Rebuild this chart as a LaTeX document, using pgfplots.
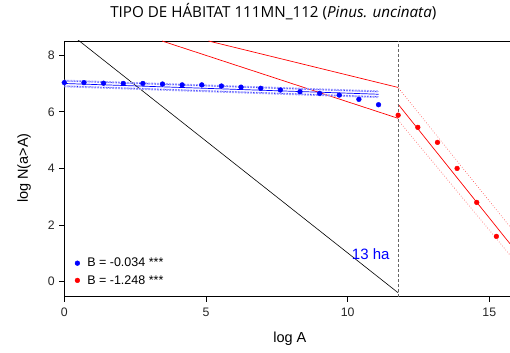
\documentclass[border=0pt]{standalone}
\usepackage{fontspec}
\setmainfont{Liberation Sans}
\newfontfamily\titlefont{Open Sans}
\usepackage{pgfplots}
\pgfplotsset{compat=1.18}
\pgfplotstableread{
x y
0.000 7.03
0.693 7.03
1.386 7.01
2.079 7.00
2.773 7.00
3.466 6.98
4.159 6.95
4.852 6.95
5.545 6.91
6.238 6.87
6.931 6.83
7.625 6.77
8.318 6.71
9.011 6.65
9.704 6.59
10.397 6.44
11.090 6.25
}\bluedata
\pgfplotstableread{
x y
11.783 5.88
12.477 5.45
13.170 4.92
13.863 4.00
14.556 2.80
15.249 1.60
}\reddata
\begin{document}
\begin{tikzpicture}
\path[use as bounding box] (0,0) rectangle (510bp,353bp);
\begin{axis}[
  at={(64.3bp,56.3bp)}, anchor=south west,
  scale only axis, width=445.7bp, height=255.7bp,
  xmin=0, xmax=15.73, ymin=-0.53, ymax=8.50,
  axis x line=box, axis y line*=left,
  xtick pos=lower, ytick pos=left,
  xtick={0,5,10,15}, ytick={0,2,4,6,8},
  tick align=outside, major tick length=5bp,
  tick style={black, line width=0.6bp},
  axis line style={black, line width=0.8bp},
  /pgf/number format/assume math mode=true,
  ticklabel style={font=\fontsize{12.3bp}{14bp}\selectfont, text=black!85},
  xticklabel style={yshift=-3bp},
  yticklabel style={xshift=-1bp},
  title={TIPO DE HÁBITAT 111MN\_112 (\textit{Pinus. uncinata})},
  title style={font=\titlefont\fontsize{15.2bp}{18bp}\selectfont, at={(axis description cs:0.469,1.0919)}, anchor=center},
  xlabel={log A},
  xlabel style={font=\fontsize{14.5bp}{17bp}\selectfont, at={(axis description cs:0.506,-0.1654)}, anchor=center},
  ylabel={log N(a>A)},
  ylabel style={font=\fontsize{14.5bp}{17bp}\selectfont, at={(axis description cs:-0.0900,0.503)}, anchor=center},
  legend style={at={(axis description cs:0.0,0.0)}, anchor=south west, draw=none, fill=none,
    font=\fontsize{12.5bp}{15bp}\selectfont, row sep=3bp, column sep=5.5bp, inner sep=2bp,
    xshift=8.5bp, yshift=7bp},
  legend cell align=left,
]
% black line
\addplot[black, line width=0.6bp, forget plot] coordinates {(0,8.92) (11.78,-0.39)};
% red lines before threshold
\addplot[red, line width=0.7bp, forget plot] coordinates {(3.45,8.50) (11.78,5.77)};
\addplot[red, line width=0.7bp, forget plot] coordinates {(5.09,8.50) (11.78,6.86)};
% blue fit with bands
\addplot[blue!35, line width=2bp, densely dotted, forget plot] coordinates {(0,7.10) (11.09,6.72)};
\addplot[blue!35, line width=2bp, densely dotted, forget plot] coordinates {(0,6.90) (11.09,6.52)};
\addplot[blue, line width=0.6bp, dotted, forget plot] coordinates {(0,7.09) (11.09,6.71)};
\addplot[blue, line width=0.6bp, dotted, forget plot] coordinates {(0,6.91) (11.09,6.53)};
\addplot[blue, line width=0.7bp, forget plot] coordinates {(0,7.00) (11.09,6.62)};
% red fit
\addplot[red, line width=0.7bp, forget plot] coordinates {(11.78,6.27) (15.73,1.34)};
\addplot[red!80, line width=0.6bp, dotted, forget plot] coordinates {(11.80,6.83) (15.73,1.94)};
\addplot[red!80, line width=0.6bp, dotted, forget plot] coordinates {(11.78,5.71) (15.73,0.94)};
% threshold
\addplot[black!60, line width=0.8bp, dash pattern=on 3bp off 2bp, forget plot] coordinates {(11.78,-0.53) (11.78,8.50)};
% points
\addplot[only marks, mark=*, mark size=2.4bp, mark options={draw=blue, fill=blue}] table {\bluedata};
\addlegendentry{B = -0.034 ***}
\addplot[only marks, mark=*, mark size=2.4bp, mark options={draw=red, fill=red}] table {\reddata};
\addlegendentry{B = -1.248 ***}
\node[anchor=east, text=blue, font=\fontsize{15bp}{18bp}\selectfont] at (axis cs:11.6,0.98) {13 ha};
\end{axis}
\end{tikzpicture}
\end{document}
